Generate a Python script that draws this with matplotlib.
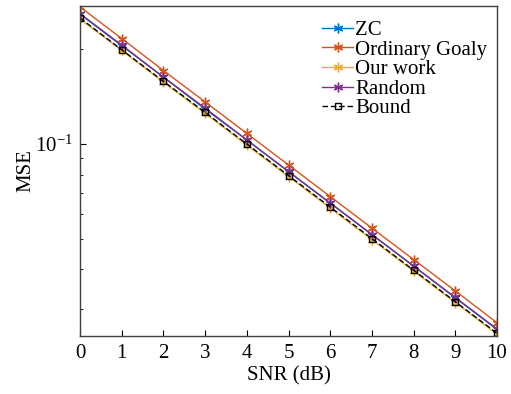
import numpy as np
import matplotlib.pyplot as plt

snr = [0, 1, 2, 3, 4, 5, 6, 7, 8, 9, 10]

mse_zc = [0.258, 0.205, 0.163, 0.129, 0.103, 0.0817, 0.0649, 0.0516, 0.0410, 0.0325, 0.0258]
mse_goaly = [0.272, 0.216, 0.171, 0.136, 0.108, 0.0858, 0.0681, 0.0541, 0.0430, 0.0342, 0.0271]
mse_ours = [0.249, 0.198, 0.157, 0.125, 0.0992, 0.0788, 0.0626, 0.0497, 0.0395, 0.0314, 0.0249]
mse_random = [0.259, 0.206, 0.163, 0.130, 0.103, 0.0818, 0.0650, 0.0516, 0.0410, 0.0326, 0.0259]
mse_bound = [0.251, 0.199, 0.158, 0.126, 0.100, 0.0794, 0.0631, 0.0501, 0.0398, 0.0316, 0.0251]

labels = ["ZC", "Ordinary Goaly", "Our work", "Random", "Bound"]
colors = ["#0072BD", "#D95319", "#EDB120", "#7E2F8E", "black"]

plt.rcParams['font.family'] = ['Liberation Serif', 'DejaVu Serif']
plt.rcParams['mathtext.fontset'] = 'stix'

fig = plt.figure(figsize=(5.11, 3.94), dpi=100)
ax = fig.add_axes([0.1566, 0.1472, 0.816, 0.8376])

asterisk = (6, 2, 0)
series = [mse_zc, mse_goaly, mse_ours, mse_random]
for vals, lab, col in zip(series, labels[:4], colors[:4]):
    ax.plot(snr, vals, '-', marker=asterisk, color=col, label=lab, lw=1.0, ms=7, mew=1.0)
ax.plot(snr, mse_bound, '--s', color='black', label=labels[4], lw=1.0, ms=5,
        mfc='none', dashes=(4, 2))

ax.set_yscale('log')
ax.set_xlim(0, 10)
ax.set_ylim(0.0246, 0.274)
ax.set_xticks(range(0, 11))
ax.tick_params(which='both', direction='in', labelsize=15, top=False, right=False)
ax.tick_params(which='major', length=4)
ax.tick_params(which='minor', length=2.5)
ax.tick_params(axis='x', pad=6)
ax.tick_params(axis='y', pad=5)
for s in ax.spines.values():
    s.set_color('#404040')
    s.set_linewidth(1.0)

ax.set_xlabel("SNR (dB)", fontsize=15, labelpad=2)
ax.set_ylabel("MSE", fontsize=15, labelpad=0)

leg = ax.legend(loc='upper right', bbox_to_anchor=(1.012, 1.0), frameon=False,
                fontsize=15, handlelength=1.5, handletextpad=0.1,
                labelspacing=0.0, borderaxespad=0.4, borderpad=0.3)

plt.savefig("out.png", dpi=100)
